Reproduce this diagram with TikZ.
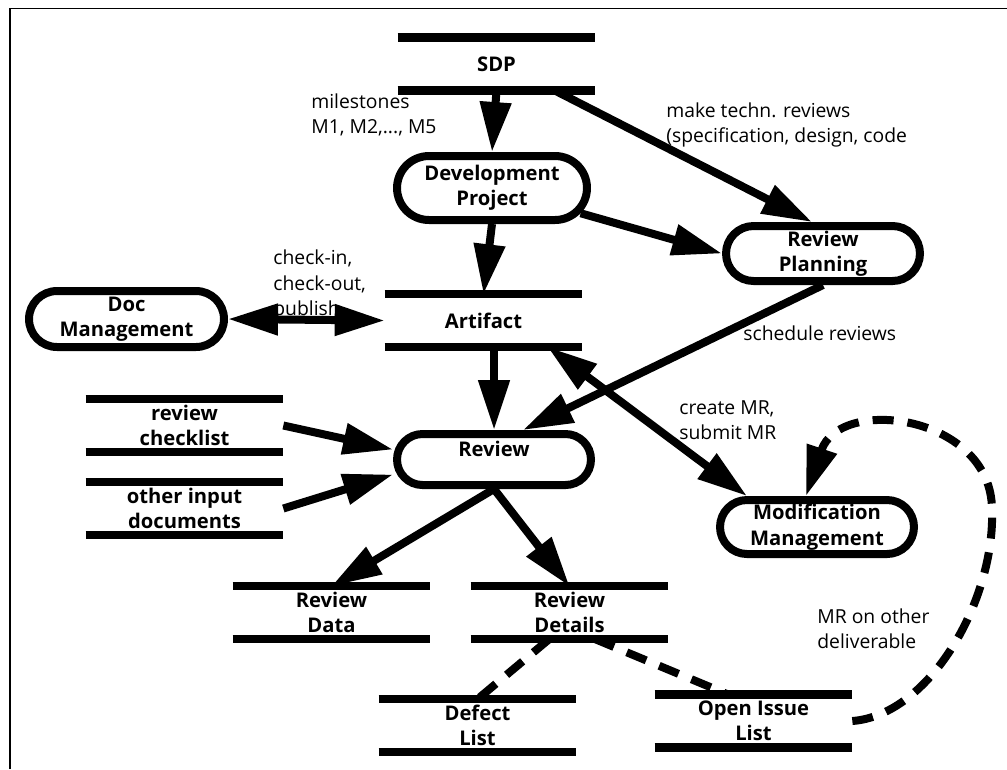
\documentclass[tikz,border=0pt]{standalone}
\usepackage{fontspec}
\setmainfont{Open Sans}
\usetikzlibrary{calc, positioning, arrows.meta, shapes.misc}

\tikzset{
  proc/.style={rounded rectangle, draw, line width=0.16cm, inner sep=0pt, align=center, font=\fontsize{11.5}{14.5}\selectfont\bfseries},
  store/.style={minimum width=3.94cm, minimum height=1.04cm, inner sep=0pt, align=center, font=\fontsize{11.5}{14.5}\selectfont\bfseries},
  bar/.style={line width=0.17cm},
  flow/.style={line width=0.16cm, -{Triangle[length=1cm, width=0.6cm]}},
  twoway/.style={line width=0.16cm, {Triangle[length=1cm, width=0.6cm]}-{Triangle[length=1cm, width=0.6cm]}},
  link/.style={line width=0.16cm, dash pattern=on 0.42cm off 0.28cm},
  note/.style={anchor=west, align=left, inner sep=0pt, font=\fontsize{11}{14.5}\selectfont}
}

\begin{document}
\begin{tikzpicture}[x=0.02cm, y=-0.02cm]
  \useasboundingbox (0,0) rectangle (1007,769);
  \draw[line width=0.03cm] (10,769) -- (10,8.5) -- (1007,8.5);

  \node[store] (sdp) at (496.5,64) {SDP};
  \node[proc, minimum width=3.8cm, minimum height=1.28cm] (dev) at (492,188) {Development\\Project};
  \node[proc, minimum width=3.88cm, minimum height=1.1cm] (rp) at (823,253.5) {Review\\Planning};
  \node[proc, minimum width=3.9cm, minimum height=1.12cm] (doc) at (126.5,319) {Doc\\Management};
  \node[store] (art) at (483.5,320.5) {Artifact};
  \node[proc, minimum width=3.88cm, minimum height=1.02cm, text height=8.5pt, text depth=12.3pt] (rev) at (494,459.5) {Review};
  \node[proc, minimum width=3.88cm, minimum height=1.08cm] (mm) at (817,527) {Modification\\Management};
  \node[store] (chk) at (184.5,425.5) {review\\checklist};
  \node[store] (oth) at (184.5,508.5) {other input\\documents};
  \node[store] (rd) at (331.5,612.5) {Review\\Data};
  \node[store] (rdet) at (569.5,612.5) {Review\\Details};
  \node[store] (def) at (477.5,725.5) {Defect\\List};
  \node[store] (oil) at (753.5,721) {Open Issue\\List};
  \foreach \s in {sdp,art,chk,oth,rd,rdet,def,oil}
    \draw[bar] (\s.north west) -- (\s.north east) (\s.south west) -- (\s.south east);

  \node[note] (ms) at (311,115) {milestones\\M1, M2,..., M5};
  \node[note] (techn) at (666,125) {make techn. reviews\\(specification, design, code};
  \node[note] (chkio) at (273,285) {check-in,\\check-out,\\publish};
  \node[note] (sched) at (743,333) {schedule reviews};
  \node[note] (cmr) at (679,420) {create MR,\\submit MR};
  \node[note] (other) at (817,628.5) {MR on other\\deliverable};

  \draw[flow] (sdp.south) -- (dev.north);
  \draw[flow] ($(sdp.south)+(58,0)$) -- ($(rp.north)+(-11,0)$);
  \draw[flow] (dev) -- (rp.west);
  \draw[flow] (dev.south) -- (art.north);
  \draw[twoway] (doc.east) -- (art.west);
  \draw[flow] (rp.south) -- ($(rev.north)+(29,0)$);
  \draw[flow] (rev.north |- art.south) -- (rev.north);
  \draw[twoway] ($(art.south)+(64,0)$) -- ($(mm.north)+(-70,0)$);
  \draw[flow] (chk.east) -- ($(rev.west)+(0,-10)$);
  \draw[flow] (oth.east) -- ($(rev.west)+(0,15)$);
  \draw[flow] (rev.south) -- (rd.north);
  \draw[flow] (rev.south) -- (rdet.north);
  \draw[link] ($(rdet.south)+(-20,0)$) -- (def.north);
  \draw[link] ($(rdet.south)+(25,0)$) -- ($(oil.north)+(-25,0)$);
  \draw[link, -{Triangle[length=1cm, width=0.6cm]}] (oil.east) .. controls (930,715) and (995,600) .. (992,510) .. controls (992,415) and (840,395) .. ($(mm.north)+(-11,0)$);
\end{tikzpicture}
\end{document}
